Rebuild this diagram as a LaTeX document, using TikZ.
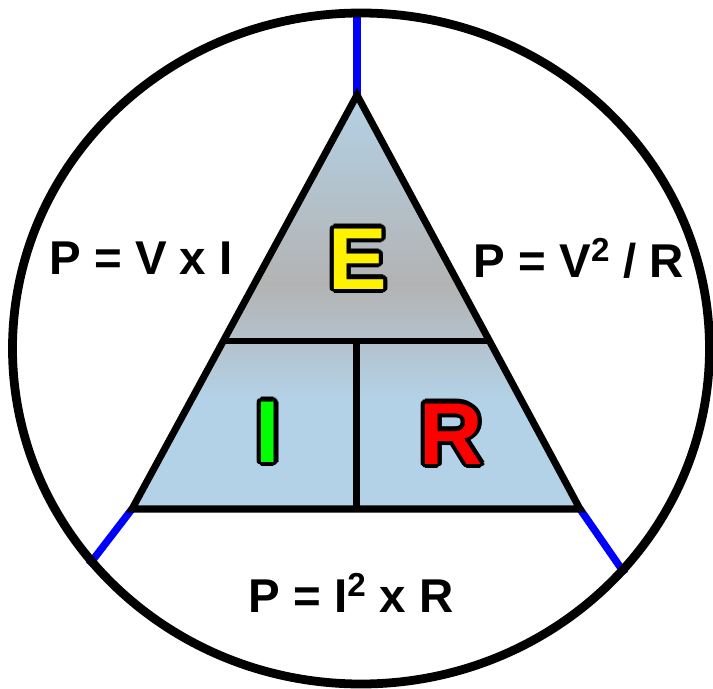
\documentclass[tikz,border=0pt]{standalone}
\usepackage{fontspec}
\setmainfont{Liberation Sans}
\usepackage{contour}
\usetikzlibrary{calc}
\contourlength{2.4pt}
\definecolor{triblue}{RGB}{179,210,231}
\definecolor{trigray}{RGB}{179,179,179}

\begin{document}
\begin{tikzpicture}
[
	x=0.02cm, y=-0.02cm,
	formula/.style={font=\bfseries\fontsize{27}{27}\selectfont, inner sep=0pt, anchor=base},
	letter/.style={font=\bfseries\fontsize{50}{50}\selectfont, inner sep=0pt, anchor=base},
	edge/.style={line width=4pt, line join=miter},
	divider/.style={line width=3.6pt},
	spoke/.style={line width=4.2pt, blue}
]
	\useasboundingbox (0,0) rectangle (713,689);

	% triangle corners
	\coordinate (apex) at (357,95);
	\coordinate (bl) at (132,509);
	\coordinate (br) at (580,509);
	\coordinate (dl) at ($(apex)!0.594!(bl)$);
	\coordinate (dr) at ($(apex)!0.594!(br)$);
	\coordinate (dm) at ($(dl)!0.5!(dr)$);

	% ends of the spokes on the circle
	\coordinate (top) at (357,13);
	\coordinate (lowleft) at (89,565);
	\coordinate (lowright) at (625,574);

	% fill
	\begin{scope}
		\clip (apex) -- (bl) -- (br) -- cycle;
		\shade[top color=triblue, bottom color=trigray] (100,90) rectangle (620,285);
		\shade[top color=trigray, bottom color=triblue] (100,285) rectangle (620,400);
		\fill[triblue] (100,400) rectangle (620,515);
	\end{scope}

	% inner lines
	\draw[divider] (dl) -- (dr);
	\draw[divider] (dm) -- (dm |- bl);

	% spokes
	\draw[spoke] (top) -- (apex);
	\draw[spoke] (bl) -- (lowleft);
	\draw[spoke] (br) -- (lowright);

	% outline
	\draw[edge] (apex) -- (bl) -- (br) -- cycle;

	% circle
	\draw[line width=5pt] (361,348.5) ellipse [x radius=348.5, y radius=335.5];

	% letters
	\node[letter] (energy) at (358,289) {\contour{black}{\textcolor{yellow}{E}}};
	\node[letter] (current) at (268,462) {\contour{black}{\textcolor{green}{I}}};
	\node[letter] (resist) at (451,464) {\contour{black}{\textcolor{red}{R}}};

	% formulas
	\node[formula] (pvi) at (141,275) {P = V x I};
	\node[formula] (pvr) at (579,277) {P = V\textsuperscript{2} / R};
	\node[formula] (pir) at (351,612) {P = I\textsuperscript{2} x R};

\end{tikzpicture}
\end{document}
